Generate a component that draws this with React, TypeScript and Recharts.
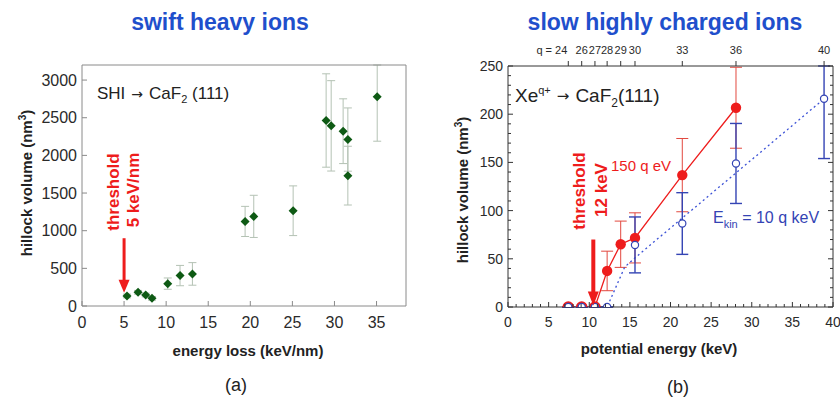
import React from 'react';
import {
  ComposedChart,
  Scatter,
  Line,
  XAxis,
  YAxis,
  ErrorBar,
  ReferenceLine,
  ReferenceDot,
} from 'recharts';

// (a) swift heavy ions -> CaF2(111)
const shiEnergyLoss = [5.35, 6.66, 7.57, 8.32, 10.19, 11.65, 13.12, 19.38, 20.41, 25.09, 29.01, 29.61, 31.03, 31.59, 31.59, 35.08];
const shiVolume = [133, 182, 146, 102, 297, 404, 426, 1123, 1190, 1265, 2463, 2392, 2321, 2210, 1731, 2778];
const shiVolumeErr = [25, 25, 25, 25, 75, 135, 150, 200, 280, 330, 620, 600, 430, 420, 390, 590];
const shiXTicks = [0, 5, 10, 15, 20, 25, 30, 35];
const shiYTicks = [0, 500, 1000, 1500, 2000, 2500, 3000];
const shiXMax = 38.5;
const shiYMax = 3200;
const shiThreshold = 5;

// (b) slow highly charged Xe ions -> CaF2(111)
const chargeStates = ['q = 24', '26', '27', '28', '29', '30', '33', '36', '40'];
const chargeEnergy = [7.42, 9.07, 10.7, 12.2, 13.87, 15.63, 21.45, 28.06, 38.9];

// 150 q eV kinetic energy
const redEnergy = [7.42, 9.07, 10.7, 12.2, 13.87, 15.63, 21.45, 28.06];
const redVolume = [0, 0, 0, 37.4, 65.1, 71.7, 136.8, 206.7];
const redVolumeErr = [0, 0, 0, 20.5, 24, 26, 38, 42];

// 10 q keV kinetic energy
const blueEnergy = [7.42, 9.07, 10.7, 12.2, 15.63, 21.45, 28.06, 38.9];
const blueVolume = [0, 0, 0, 0, 64.4, 86.6, 148.9, 216];
const blueVolumeErr = [0, 0, 0, 0, 29, 32, 41.5, 62];

// dotted guide for the 10 q keV series
const blueGuideEnergy = [7.42, 12.2, 14.37, 15.63, 38.9];
const blueGuideVolume = [0, 0, 41.5, 51, 216];

const hciXMax = 40;
const hciYMax = 250;
const hciThreshold = 10.5;

// points with a [minus, plus] error pair; the plus side stops at the frame top
const withErrors = (xs: number[], ys: number[], errs: number[], yMax: number) =>
  xs.map((x, i) => ({ x, y: ys[i], errBand: [errs[i], Math.min(errs[i], yMax - ys[i])] }));

const range = (from: number, to: number, step: number) => {
  const out: number[] = [];
  for (let v = from; v <= to + 1e-9; v += step) out.push(Math.round(v * 100) / 100);
  return out;
};

const shiData = withErrors(shiEnergyLoss, shiVolume, shiVolumeErr, shiYMax);
const redData = withErrors(redEnergy, redVolume, redVolumeErr, hciYMax);
const redLineData = redData.slice(2);
const blueData = withErrors(blueEnergy, blueVolume, blueVolumeErr, hciYMax);
const blueGuide = blueGuideEnergy.map((x, i) => ({ x, y: blueGuideVolume[i] }));
// invisible anchors so the frame axes get their own domain
const shiFrame = [{ x: 0, y: 0 }, { x: shiXMax, y: shiYMax }];
const hciFrame = [{ x: 0, y: 0 }, { x: hciXMax, y: hciYMax }];

const FONT = '"Liberation Sans", Arial, sans-serif';
const RED = '#ee1c1c';
const BLUE = '#3444b4';
const GREEN = '#0e5a14';

// tick renderers: marks point into the plot, labels sit outside
const bottomTick = (major: number, color: string, size: number, labelDy: number) => (props: any) => {
  const { x, y, payload } = props;
  const isMajor = Math.abs(payload.value % major) < 1e-6;
  return (
    <g>
      <line x1={x} x2={x} y1={y} y2={y - (isMajor ? 5 : 3)} stroke={color} strokeWidth={1} />
      {isMajor && (
        <text x={x} y={y + labelDy} textAnchor="middle" fontSize={size} fontFamily={FONT} fill="#2a2a2a">
          {payload.value}
        </text>
      )}
    </g>
  );
};

const leftTick = (major: number, color: string, size: number) => (props: any) => {
  const { x, y, payload } = props;
  const isMajor = Math.abs(payload.value % major) < 1e-6;
  return (
    <g>
      <line x1={x} x2={x + (isMajor ? 5 : 3)} y1={y} y2={y} stroke={color} strokeWidth={1} />
      {isMajor && (
        <text x={x - 5} y={y} dy="0.35em" textAnchor="end" fontSize={size} fontFamily={FONT} fill="#2a2a2a">
          {payload.value}
        </text>
      )}
    </g>
  );
};

const rightTick = (major: number, color: string) => (props: any) => {
  const { x, y, payload } = props;
  const isMajor = Math.abs(payload.value % major) < 1e-6;
  return <line x1={x} x2={x - (isMajor ? 5 : 3)} y1={y} y2={y} stroke={color} strokeWidth={1} />;
};

const chargeTick = (props: any) => {
  const { x, y, index } = props;
  const first = index === 0;
  return (
    <g>
      <line x1={x} x2={x} y1={y} y2={y - 5} stroke="#333" strokeWidth={1} />
      <text
        x={first ? x - 1 : x}
        y={y - 12}
        textAnchor={first ? 'end' : 'middle'}
        fontSize={11}
        fontFamily={FONT}
        fill="#2a2a2a"
      >
        {chargeStates[index]}
      </text>
    </g>
  );
};

const Diamond = (props: any) => {
  const { cx, cy } = props;
  const r = 4.5;
  return <polygon points={`${cx},${cy - r} ${cx + r},${cy} ${cx},${cy + r} ${cx - r},${cy}`} fill={GREEN} />;
};

const RedMarker = (props: any) => {
  const { cx, cy, payload } = props;
  if (payload.y === 0) {
    return <circle cx={cx} cy={cy} r={4.6} fill="none" stroke={RED} strokeWidth={2.4} />;
  }
  return <circle cx={cx} cy={cy} r={5.2} fill={RED} />;
};

const BlueMarker = (props: any) => {
  const { cx, cy } = props;
  return <circle cx={cx} cy={cy} r={3.6} fill="#fff" stroke={BLUE} strokeWidth={1.2} />;
};

const arrowHead = (w: number, h: number) => (props: any) => {
  const { cx, cy } = props;
  return <polygon points={`${cx - w / 2},${cy - h} ${cx + w / 2},${cy - h} ${cx},${cy}`} fill={RED} />;
};

const Txt = ({
  x,
  y,
  rotate,
  anchor = 'center',
  style,
  children,
}: {
  x: number;
  y: number;
  rotate?: boolean;
  anchor?: 'center' | 'left';
  style?: React.CSSProperties;
  children: React.ReactNode;
}) => (
  <div
    style={{
      position: 'absolute',
      left: x,
      top: y,
      whiteSpace: 'nowrap',
      lineHeight: 1,
      fontFamily: FONT,
      transform: `translate(${anchor === 'left' ? '0' : '-50%'}, -50%)${rotate ? ' rotate(-90deg)' : ''}`,
      ...style,
    }}
  >
    {children}
  </div>
);

const Arrow = ({ size }: { size: number }) => (
  <span style={{ fontFamily: '"DejaVu Sans", sans-serif', fontSize: size, margin: '0 6px' }}>→</span>
);

const SwiftHeavyIons = () => (
  <ComposedChart width={420} height={399} margin={{ top: 64, right: 13, bottom: 63, left: 42 }}>
    <XAxis
      dataKey="x"
      type="number"
      domain={[0, shiXMax]}
      ticks={shiXTicks}
      interval={0}
      allowDataOverflow
      height={30}
      tickSize={0}
      tickMargin={0}
      stroke="#8a8a8a"
      tick={bottomTick(5, '#8a8a8a', 16, 22)}
    />
    <XAxis
      xAxisId="frame"
      dataKey="x"
      orientation="top"
      type="number"
      domain={[0, shiXMax]}
      allowDataOverflow
      height={1}
      tick={false}
      tickLine={false}
      stroke="#8a8a8a"
    />
    <YAxis
      dataKey="y"
      type="number"
      domain={[0, shiYMax]}
      ticks={shiYTicks}
      interval={0}
      allowDataOverflow
      width={40}
      tickSize={0}
      tickMargin={0}
      stroke="#8a8a8a"
      tick={leftTick(500, '#8a8a8a', 16)}
    />
    <YAxis
      yAxisId="frame"
      dataKey="y"
      orientation="right"
      type="number"
      domain={[0, shiYMax]}
      allowDataOverflow
      width={1}
      tick={false}
      tickLine={false}
      stroke="#8a8a8a"
    />
    <Line xAxisId="frame" yAxisId="frame" data={shiFrame} dataKey="y" stroke="none" dot={false} isAnimationActive={false} />
    <Scatter data={shiData} shape={<Diamond />} isAnimationActive={false}>
      <ErrorBar dataKey="errBand" direction="y" width={4} stroke="#b4c2b4" strokeWidth={1} />
    </Scatter>
    <ReferenceLine
      segment={[
        { x: shiThreshold, y: 900 },
        { x: shiThreshold, y: 330 },
      ]}
      stroke={RED}
      strokeWidth={3}
    />
    <ReferenceDot x={shiThreshold} y={175} shape={arrowHead(11, 13)} />
  </ComposedChart>
);

const HighlyChargedIons = () => (
  <ComposedChart width={420} height={399} margin={{ top: 36, right: 6, bottom: 62, left: 48 }}>
    <XAxis
      dataKey="x"
      type="number"
      domain={[0, hciXMax]}
      ticks={range(0, hciXMax, 1)}
      interval={0}
      allowDataOverflow
      height={30}
      tickSize={0}
      tickMargin={0}
      stroke="#333"
      tick={bottomTick(5, '#333', 14, 20)}
    />
    <XAxis
      xAxisId="q"
      dataKey="x"
      orientation="top"
      type="number"
      domain={[0, hciXMax]}
      ticks={chargeEnergy}
      interval={0}
      allowDataOverflow
      height={30}
      tickSize={0}
      tickMargin={0}
      stroke="#333"
      tick={chargeTick}
    />
    <YAxis
      dataKey="y"
      type="number"
      domain={[0, hciYMax]}
      ticks={range(0, hciYMax, 10)}
      interval={0}
      allowDataOverflow
      width={40}
      tickSize={0}
      tickMargin={0}
      stroke="#333"
      tick={leftTick(50, '#333', 14)}
    />
    <YAxis
      yAxisId="frame"
      dataKey="y"
      orientation="right"
      type="number"
      domain={[0, hciYMax]}
      ticks={range(0, hciYMax, 10)}
      interval={0}
      allowDataOverflow
      width={1}
      tickSize={0}
      tickMargin={0}
      stroke="#333"
      tick={rightTick(50, '#333')}
    />
    <Line xAxisId="q" yAxisId="frame" data={hciFrame} dataKey="y" stroke="none" dot={false} isAnimationActive={false} />
    <Line data={redLineData} dataKey="y" stroke={RED} strokeWidth={1.3} dot={false} isAnimationActive={false} />
    <Scatter data={redData} shape={<RedMarker />} isAnimationActive={false}>
      <ErrorBar dataKey="errBand" direction="y" width={6} stroke="#e2483f" strokeWidth={1} />
    </Scatter>
    <Line
      data={blueGuide}
      dataKey="y"
      stroke="#3c52d6"
      strokeWidth={1.3}
      strokeDasharray="2 3"
      dot={false}
      isAnimationActive={false}
    />
    <Scatter data={blueData} shape={<BlueMarker />} isAnimationActive={false}>
      <ErrorBar dataKey="errBand" direction="y" width={6} stroke={BLUE} strokeWidth={1.4} />
    </Scatter>
    <ReferenceLine
      segment={[
        { x: hciThreshold, y: 70 },
        { x: hciThreshold, y: 14 },
      ]}
      stroke={RED}
      strokeWidth={4}
    />
    <ReferenceDot x={hciThreshold} y={1.5} shape={arrowHead(11, 14)} />
  </ComposedChart>
);

export default function App() {
  const axisTitle: React.CSSProperties = { fontSize: 15, fontWeight: 700, color: '#222' };
  const title: React.CSSProperties = { fontSize: 23, fontWeight: 700, color: '#1f4fcc' };
  const threshold: React.CSSProperties = { fontSize: 17, fontWeight: 700, color: RED };
  return (
    <div style={{ position: 'absolute', left: 0, top: 0, width: 840, height: 399, background: '#fff', overflow: 'hidden' }}>
      <div style={{ position: 'absolute', left: 0, top: 0 }}>
        <SwiftHeavyIons />
      </div>
      <div style={{ position: 'absolute', left: 420, top: 0 }}>
        <HighlyChargedIons />
      </div>

      <Txt x={220} y={22} style={title}>swift heavy ions</Txt>
      <Txt x={665} y={22} style={title}>slow highly charged ions</Txt>

      <Txt x={26} y={183} rotate style={axisTitle}>
        hillock volume (nm<sup style={{ fontSize: 10 }}>3</sup>)
      </Txt>
      <Txt x={462} y={190} rotate style={axisTitle}>
        hillock volume (nm<sup style={{ fontSize: 10 }}>3</sup>)
      </Txt>
      <Txt x={248} y={350} style={axisTitle}>energy loss (keV/nm)</Txt>
      <Txt x={659} y={348} style={axisTitle}>potential energy (keV)</Txt>
      <Txt x={236} y={385} style={{ fontSize: 18, color: '#222' }}>(a)</Txt>
      <Txt x={678} y={387} style={{ fontSize: 18, color: '#222' }}>(b)</Txt>

      <Txt x={97} y={95} anchor="left" style={{ fontSize: 17, color: '#222' }}>
        SHI<Arrow size={14} />CaF<sub style={{ fontSize: 11 }}>2</sub> (111)
      </Txt>
      <Txt x={113} y={192} rotate style={threshold}>threshold</Txt>
      <Txt x={133} y={190} rotate style={threshold}>5 keV/nm</Txt>

      <Txt x={515} y={97} anchor="left" style={{ fontSize: 19, color: '#222' }}>
        Xe<sup style={{ fontSize: 11 }}>q+</sup>
        <Arrow size={15} />
        CaF<sub style={{ fontSize: 12 }}>2</sub>(111)
      </Txt>
      <Txt x={579} y={191} rotate style={threshold}>threshold</Txt>
      <Txt x={601} y={190} rotate style={threshold}>12 keV</Txt>
      <Txt x={641} y={165} style={{ fontSize: 15, color: RED }}>150 q eV</Txt>
      <Txt x={713} y={220} anchor="left" style={{ fontSize: 16, color: BLUE }}>
        E<sub style={{ fontSize: 11 }}>kin</sub> = 10 q keV
      </Txt>
    </div>
  );
}
